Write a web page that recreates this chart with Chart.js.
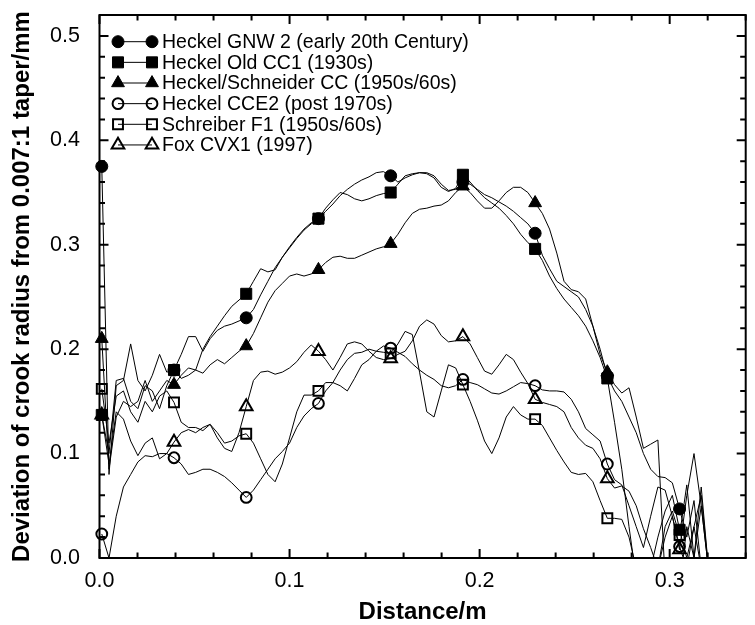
<!DOCTYPE html>
<html><head><meta charset="utf-8">
<script src="https://cdn.jsdelivr.net/npm/chart.js@4.4.1/dist/chart.umd.min.js"></script>
<style>html,body{margin:0;padding:0;background:#fff}canvas{display:block}</style>
</head><body>
<canvas id="c" width="755" height="625" style="width:755px;height:625px"></canvas>
<script>
// ---- data ----
const DISTANCE = [0.0012,0.0050,0.0088,0.0126,0.0164,0.0202,0.0240,0.0278,0.0316,0.0354,
0.0392,0.0430,0.0468,0.0506,0.0544,0.0582,0.0620,0.0658,0.0696,0.0734,
0.0772,0.0810,0.0848,0.0886,0.0924,0.0962,0.1000,0.1038,0.1076,0.1114,
0.1152,0.1190,0.1228,0.1266,0.1304,0.1342,0.1380,0.1418,0.1456,0.1494,
0.1532,0.1570,0.1608,0.1646,0.1684,0.1722,0.1760,0.1798,0.1836,0.1874,
0.1912,0.1950,0.1988,0.2026,0.2064,0.2102,0.2140,0.2178,0.2216,0.2254,
0.2292,0.2330,0.2368,0.2406,0.2444,0.2482,0.2520,0.2558,0.2596,0.2634,
0.2672,0.2710,0.2748,0.2786,0.2824,0.2862,0.2900,0.2938,0.2976,0.3014,
0.3052,0.3090,0.3128,0.3166,0.3204];

const GNW2 = [0.375,0.080,0.165,0.170,0.205,0.170,0.160,0.175,0.195,0.178,
0.180,0.195,0.212,0.212,0.198,0.210,0.218,0.222,0.224,0.227,
0.230,0.238,0.252,0.265,0.278,0.288,0.297,0.306,0.314,0.320,
0.325,0.332,0.339,0.347,0.353,0.358,0.362,0.365,0.369,0.370,
0.366,0.360,0.364,0.367,0.369,0.369,0.366,0.358,0.352,0.353,
0.360,0.358,0.353,0.348,0.345,0.341,0.337,0.332,0.326,0.320,
0.311,0.290,0.277,0.265,0.260,0.255,0.250,0.238,0.222,0.200,
0.174,0.160,0.150,0.135,0.120,0.100,0.085,0.078,0.077,0.072,
0.047,0.020,0.055,-0.010,-0.020];

const OLD_CC1 = [0.137,0.100,0.170,0.172,0.150,0.143,0.165,0.160,0.143,0.165,
0.180,0.172,0.175,0.180,0.200,0.212,0.222,0.232,0.241,0.247,
0.253,0.265,0.277,0.274,0.276,0.288,0.298,0.307,0.315,0.321,
0.325,0.335,0.343,0.350,0.348,0.344,0.342,0.344,0.347,0.349,
0.350,0.358,0.366,0.368,0.369,0.368,0.364,0.355,0.351,0.354,
0.367,0.360,0.352,0.345,0.340,0.335,0.328,0.320,0.310,0.302,
0.296,0.285,0.270,0.258,0.248,0.240,0.232,0.222,0.208,0.192,
0.172,0.130,0.085,0.030,-0.020,-0.030,-0.010,0.020,0.045,0.060,
0.027,0.000,0.030,0.060,-0.010];

const SCHNEIDER_CC = [0.210,0.085,0.135,0.150,0.145,0.150,0.170,0.150,0.160,0.170,
0.166,0.175,0.182,0.180,0.177,0.185,0.190,0.186,0.192,0.198,
0.203,0.215,0.230,0.245,0.256,0.263,0.270,0.272,0.270,0.272,
0.276,0.283,0.288,0.289,0.287,0.287,0.290,0.293,0.296,0.298,
0.301,0.310,0.321,0.330,0.334,0.335,0.337,0.338,0.342,0.350,
0.356,0.350,0.342,0.335,0.335,0.342,0.350,0.355,0.355,0.350,
0.340,0.330,0.315,0.292,0.265,0.257,0.255,0.248,0.222,0.195,
0.178,0.166,0.158,0.163,0.135,0.105,0.109,0.113,-0.020,-0.020,
-0.030,0.030,0.000,0.050,-0.010];

const CCE2 = [0.023,0.000,0.040,0.068,0.080,0.092,0.098,0.097,0.100,0.100,
0.096,0.090,0.080,0.082,0.085,0.085,0.082,0.078,0.072,0.065,
0.058,0.065,0.075,0.085,0.095,0.102,0.110,0.125,0.136,0.143,
0.148,0.160,0.168,0.165,0.160,0.172,0.185,0.190,0.198,0.203,
0.201,0.197,0.193,0.186,0.180,0.175,0.171,0.165,0.163,0.165,
0.171,0.168,0.166,0.162,0.158,0.157,0.160,0.164,0.168,0.167,
0.165,0.161,0.160,0.160,0.159,0.152,0.140,0.124,0.118,0.112,
0.090,0.075,0.070,0.050,0.030,0.010,0.040,0.068,0.065,0.040,
0.011,-0.010,0.030,-0.010,-0.020];

const SCHREIBER_F1 = [0.162,0.110,0.155,0.160,0.140,0.130,0.150,0.140,0.155,0.160,
0.149,0.130,0.125,0.125,0.122,0.128,0.120,0.110,0.112,0.117,
0.119,0.110,0.095,0.080,0.073,0.090,0.115,0.140,0.156,0.156,
0.160,0.168,0.168,0.180,0.190,0.196,0.197,0.200,0.198,0.197,
0.196,0.205,0.217,0.214,0.178,0.140,0.135,0.160,0.185,0.182,
0.166,0.150,0.132,0.112,0.100,0.115,0.135,0.145,0.137,0.133,
0.133,0.127,0.115,0.103,0.092,0.082,0.080,0.081,0.073,0.055,
0.038,0.038,0.037,0.020,-0.010,-0.020,-0.020,-0.010,0.030,0.045,
0.022,0.070,0.000,0.068,-0.010];

const FOX_CVX1 = [0.137,0.090,0.140,0.133,0.112,0.098,0.110,0.115,0.095,0.100,
0.111,0.120,0.123,0.120,0.125,0.128,0.115,0.105,0.102,0.120,
0.145,0.170,0.178,0.179,0.176,0.178,0.182,0.188,0.197,0.204,
0.198,0.190,0.180,0.192,0.205,0.207,0.205,0.198,0.192,0.190,
0.191,0.195,0.198,0.208,0.222,0.228,0.224,0.213,0.207,0.208,
0.212,0.205,0.192,0.179,0.176,0.185,0.195,0.190,0.178,0.167,
0.152,0.149,0.147,0.145,0.140,0.125,0.115,0.108,0.105,0.095,
0.076,0.067,0.069,0.064,0.050,0.028,0.010,-0.010,0.020,0.040,
0.008,0.060,0.100,0.050,-0.010];

const SERIES_NAMES = ['Heckel GNW 2 (early 20th Century)','Heckel Old CC1 (1930s)',
  'Heckel/Schneider CC (1950s/60s)','Heckel CCE2 (post 1970s)','Schreiber F1 (1950s/60s)','Fox CVX1 (1997)'];
const SERIES_VALUES = [GNW2, OLD_CC1, SCHNEIDER_CC, CCE2, SCHREIBER_F1, FOX_CVX1];
const X_TICKS = [0, 0.1, 0.2, 0.3];
const Y_TICKS = [0, 0.1, 0.2, 0.3, 0.4, 0.5];
const X_TICK_STEP = 0.1, Y_TICK_STEP = 0.1, MINOR_STEP = 0.02;

// ---- styles ----
const MARK_EVERY = 10;
const STYLES = [
  {pointStyle:'circle',   fill:true,  r:6.0, bw:1},
  {pointStyle:'rect',     fill:true,  r:7.8, bw:1},
  {pointStyle:'triangle', fill:true,  r:7.4, bw:1},
  {pointStyle:'circle',   fill:false, r:5.4, bw:2},
  {pointStyle:'rect',     fill:false, r:7.0, bw:2},
  {pointStyle:'triangle', fill:false, r:7.3, bw:2}
];
const FONT = '"Liberation Sans", Arial, Helvetica, sans-serif';

function drawMarker(ctx, st, x, y) {
  ctx.beginPath();
  const r = st.r;
  if (st.pointStyle === 'circle') {
    ctx.arc(x, y, r, 0, Math.PI * 2);
  } else if (st.pointStyle === 'rect') {
    const s = Math.SQRT1_2 * r;
    ctx.rect(x - s, y - s, 2 * s, 2 * s);
  } else {
    for (let k = 0; k < 3; k++) {
      const a = k * 2 * Math.PI / 3;
      const px = x + Math.sin(a) * r, py = y - Math.cos(a) * r;
      if (k === 0) ctx.moveTo(px, py); else ctx.lineTo(px, py);
    }
    ctx.closePath();
  }
  ctx.fillStyle = st.fill ? '#000' : 'rgba(0,0,0,0)';
  ctx.fill();
  ctx.lineWidth = st.bw;
  ctx.strokeStyle = '#000';
  ctx.stroke();
}

const datasets = SERIES_VALUES.map((vals, i) => {
  const st = STYLES[i];
  return {
    label: SERIES_NAMES[i],
    data: vals.map((v, j) => ({x: DISTANCE[j], y: v})),
    borderColor: '#000',
    borderWidth: 1,
    pointStyle: st.pointStyle,
    pointRadius: c => (c.dataIndex % MARK_EVERY === 0 ? st.r : 0),
    pointHoverRadius: c => (c.dataIndex % MARK_EVERY === 0 ? st.r : 0),
    pointBackgroundColor: st.fill ? '#000' : 'rgba(0,0,0,0)',
    pointBorderColor: '#000',
    pointBorderWidth: st.bw,
    tension: 0,
    fill: false,
    clip: {left: 8, top: 0, right: 0, bottom: 0}
  };
});

const framePlugin = {
  id: 'frameTicks',
  afterDatasetsDraw(chart) {
    const {ctx, chartArea: a} = chart;
    const xs = chart.scales.x, ys = chart.scales.y;
    ctx.save();
    ctx.strokeStyle = '#000';
    ctx.lineWidth = 2;
    ctx.lineCap = 'butt';
    ctx.beginPath();
    const nx = Math.round((xs.max - xs.min) / MINOR_STEP);
    for (let k = 0; k <= nx; k++) {
      const v = xs.min + k * MINOR_STEP;
      const major = Math.abs(v / X_TICK_STEP - Math.round(v / X_TICK_STEP)) < 1e-6;
      const len = major ? 9 : 5.5;
      const px = xs.getPixelForValue(v);
      ctx.moveTo(px, a.bottom); ctx.lineTo(px, a.bottom - len);
      ctx.moveTo(px, a.top); ctx.lineTo(px, a.top + len);
    }
    const ny = Math.round((ys.max - ys.min) / MINOR_STEP);
    for (let k = 0; k <= ny; k++) {
      const v = ys.min + k * MINOR_STEP;
      const major = Math.abs(v / Y_TICK_STEP - Math.round(v / Y_TICK_STEP)) < 1e-6;
      const len = major ? 9 : 5.5;
      const py = ys.getPixelForValue(v);
      ctx.moveTo(a.left, py); ctx.lineTo(a.left + len, py);
      ctx.moveTo(a.right, py); ctx.lineTo(a.right - len, py);
    }
    ctx.stroke();
    ctx.strokeRect(a.left, a.top, a.right - a.left, a.bottom - a.top);
    ctx.restore();
  }
};

const legendPlugin = {
  id: 'markerLegend',
  afterDraw(chart) {
    const ctx = chart.ctx;
    ctx.save();
    const x1 = 118, x2 = 152, tx = 162, y0 = 41.7, dy = 20.65;
    SERIES_NAMES.forEach((name, i) => {
      const y = y0 + i * dy;
      ctx.beginPath();
      ctx.moveTo(x1, y); ctx.lineTo(x2, y);
      ctx.lineWidth = 1; ctx.strokeStyle = '#000'; ctx.stroke();
      drawMarker(ctx, STYLES[i], x1, y);
      drawMarker(ctx, STYLES[i], x2, y);
      ctx.fillStyle = '#000';
      ctx.font = '19.5px ' + FONT;
      ctx.textAlign = 'left';
      ctx.textBaseline = 'middle';
      ctx.fillText(name, tx, y + 1);
    });
    ctx.restore();
  }
};

function setTicks(list) {
  return s => { s.ticks = list.map(v => ({value: v})); };
}

new Chart(document.getElementById('c'), {
  type: 'line',
  data: {datasets},
  plugins: [framePlugin, legendPlugin],
  options: {
    responsive: false,
    animation: false,
    devicePixelRatio: 1,
    layout: {padding: {left: 0, right: 5, top: 15, bottom: 0}},
    plugins: {legend: {display: false}, tooltip: {enabled: false}},
    events: [],
    scales: {
      x: {
        type: 'linear', min: 0, max: 0.34,
        grid: {display: false, drawTicks: false},
        border: {display: false},
        ticks: {stepSize: X_TICK_STEP, callback: v => Number(v).toFixed(1), color: '#000',
                font: {family: FONT, size: 21.5}, padding: 10, maxRotation: 0, autoSkip: false},
        title: {display: true, text: 'Distance/m', color: '#000',
                font: {family: FONT, size: 24, weight: 'bold'}, padding: {top: 0, bottom: -2}},
        afterBuildTicks: setTicks(X_TICKS),
        afterFit: s => { s.height = 67; s.paddingLeft = 0; s.paddingRight = 0; }
      },
      y: {
        type: 'linear', min: 0, max: 0.52,
        grid: {display: false, drawTicks: false},
        border: {display: false},
        ticks: {stepSize: Y_TICK_STEP, callback: v => Number(v).toFixed(1), color: '#000',
                font: {family: FONT, size: 21.5}, padding: 19.5, autoSkip: false},
        title: {display: true, text: 'Deviation of crook radius from 0.007:1 taper/mm', color: '#000',
                font: {family: FONT, size: 24, weight: 'bold'}, padding: {top: 8, bottom: 0}},
        afterBuildTicks: setTicks(Y_TICKS),
        afterFit: s => { s.width = 99.5; s.paddingTop = 0; s.paddingBottom = 0; }
      }
    }
  }
});
</script></body></html>
